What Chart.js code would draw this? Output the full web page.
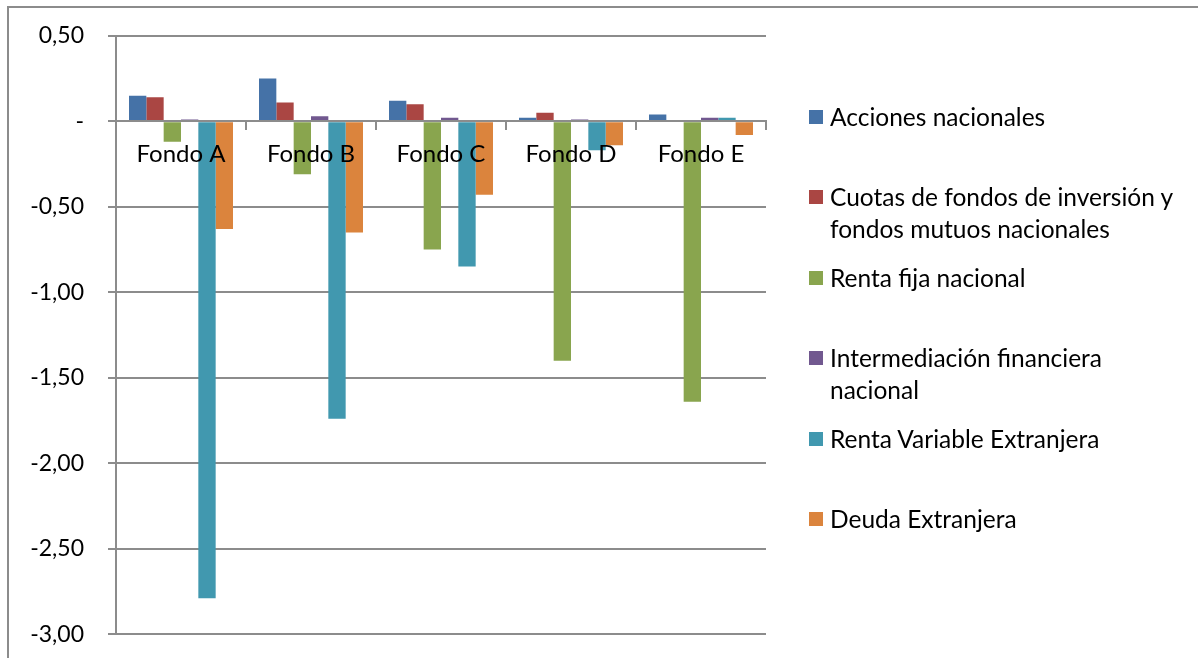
<!DOCTYPE html>
<html>
<head>
<meta charset="utf-8">
<script src="https://cdn.jsdelivr.net/npm/chart.js@4"></script>
<style>
  html, body { margin: 0; padding: 0; background: #fff; }
  body { width: 1198px; height: 658px; position: relative; overflow: hidden; font-family: Lato, sans-serif; }
  #frame { position: absolute; left: 7px; top: 6px; width: 1300px; height: 800px; border-top: 2px solid #8c8c8c; border-left: 2px solid #8c8c8c; }
  #wrap { position: absolute; left: 0; top: -2px; width: 1198px; height: 674px; }
  #legend { position: absolute; left: 809px; top: 101px; }
  .item { display: flex; align-items: flex-start; height: 80.4px; }
  .box { width: 14px; height: 14px; margin-top: 9px; flex: none; }
  .txt { margin-left: 7px; width: 355px; font-size: 24.5px; line-height: 32px; color: #000; }
</style>
</head>
<body>
<div id="frame"></div>
<div id="wrap"><canvas id="chart"></canvas></div>
<div id="legend"></div>
<script>
// datos
const categorias = ["Fondo A", "Fondo B", "Fondo C", "Fondo D", "Fondo E"];
const acciones = [0.15, 0.25, 0.12, 0.02, 0.04];
const cuotas = [0.14, 0.11, 0.10, 0.05, 0.00];
const rentaFija = [-0.12, -0.31, -0.75, -1.40, -1.64];
const intermediacion = [0.01, 0.03, 0.02, 0.01, 0.02];
const rentaVariable = [-2.79, -1.74, -0.85, -0.17, 0.02];
const deuda = [-0.63, -0.65, -0.43, -0.14, -0.08];

const series = [
  { label: "Acciones nacionales", data: acciones, color: "#4572A7" },
  { label: "Cuotas de fondos de inversión y fondos mutuos nacionales", data: cuotas, color: "#AA4643" },
  { label: "Renta fija nacional", data: rentaFija, color: "#89A54E" },
  { label: "Intermediación financiera nacional", data: intermediacion, color: "#71588F" },
  { label: "Renta Variable Extranjera", data: rentaVariable, color: "#4198AF" },
  { label: "Deuda Extranjera", data: deuda, color: "#DB843D" },
];

const gris = "#8c8c8c";

// leyenda en HTML para poder partir las líneas
const legend = document.getElementById("legend");
series.forEach((s) => {
  legend.innerHTML += `
    <div class="item">
      <div class="box" style="background:${s.color}"></div>
      <div class="txt">${s.label}</div>
    </div>`;
});

const formato = (v) => {
  if (Math.abs(v) < 1e-9) return "-";
  return v.toFixed(2).replace(".", ",");
};

new Chart(document.getElementById("chart"), {
  type: "bar",
  data: {
    labels: categorias,
    datasets: series.map((s) => ({
      label: s.label,
      data: s.data,
      backgroundColor: s.color,
      borderWidth: 0,
      categoryPercentage: 0.8,
      barPercentage: 1.0,
    })),
  },
  options: {
    responsive: true,
    maintainAspectRatio: false,
    animation: false,
    layout: { padding: { top: 35, bottom: 0, left: 0, right: 432 } },
    plugins: {
      legend: { display: false },
      tooltip: { enabled: false },
    },
    scales: {
      x: {
        position: { y: 0 },
        grid: {
          display: true,
          drawOnChartArea: false,
          offset: true,
          tickLength: 8,
          color: gris,
          lineWidth: 2,
        },
        border: { display: true, color: gris, width: 2, z: 1 },
        ticks: {
          color: "#000",
          font: { family: "Lato, sans-serif", size: 24 },
          padding: 11,
          maxRotation: 0,
          z: 1,
        },
      },
      y: {
        min: -3,
        max: 0.5,
        afterFit: (scale) => {
          scale.width = 116;
        },
        grid: { color: gris, lineWidth: 2, tickLength: 8 },
        border: { display: true, color: gris, width: 2 },
        ticks: {
          stepSize: 0.5,
          color: "#000",
          font: { family: "Lato, sans-serif", size: 23 },
          padding: 24,
          callback: (v) => formato(v),
        },
      },
    },
  },
});
</script>
</body>
</html>
